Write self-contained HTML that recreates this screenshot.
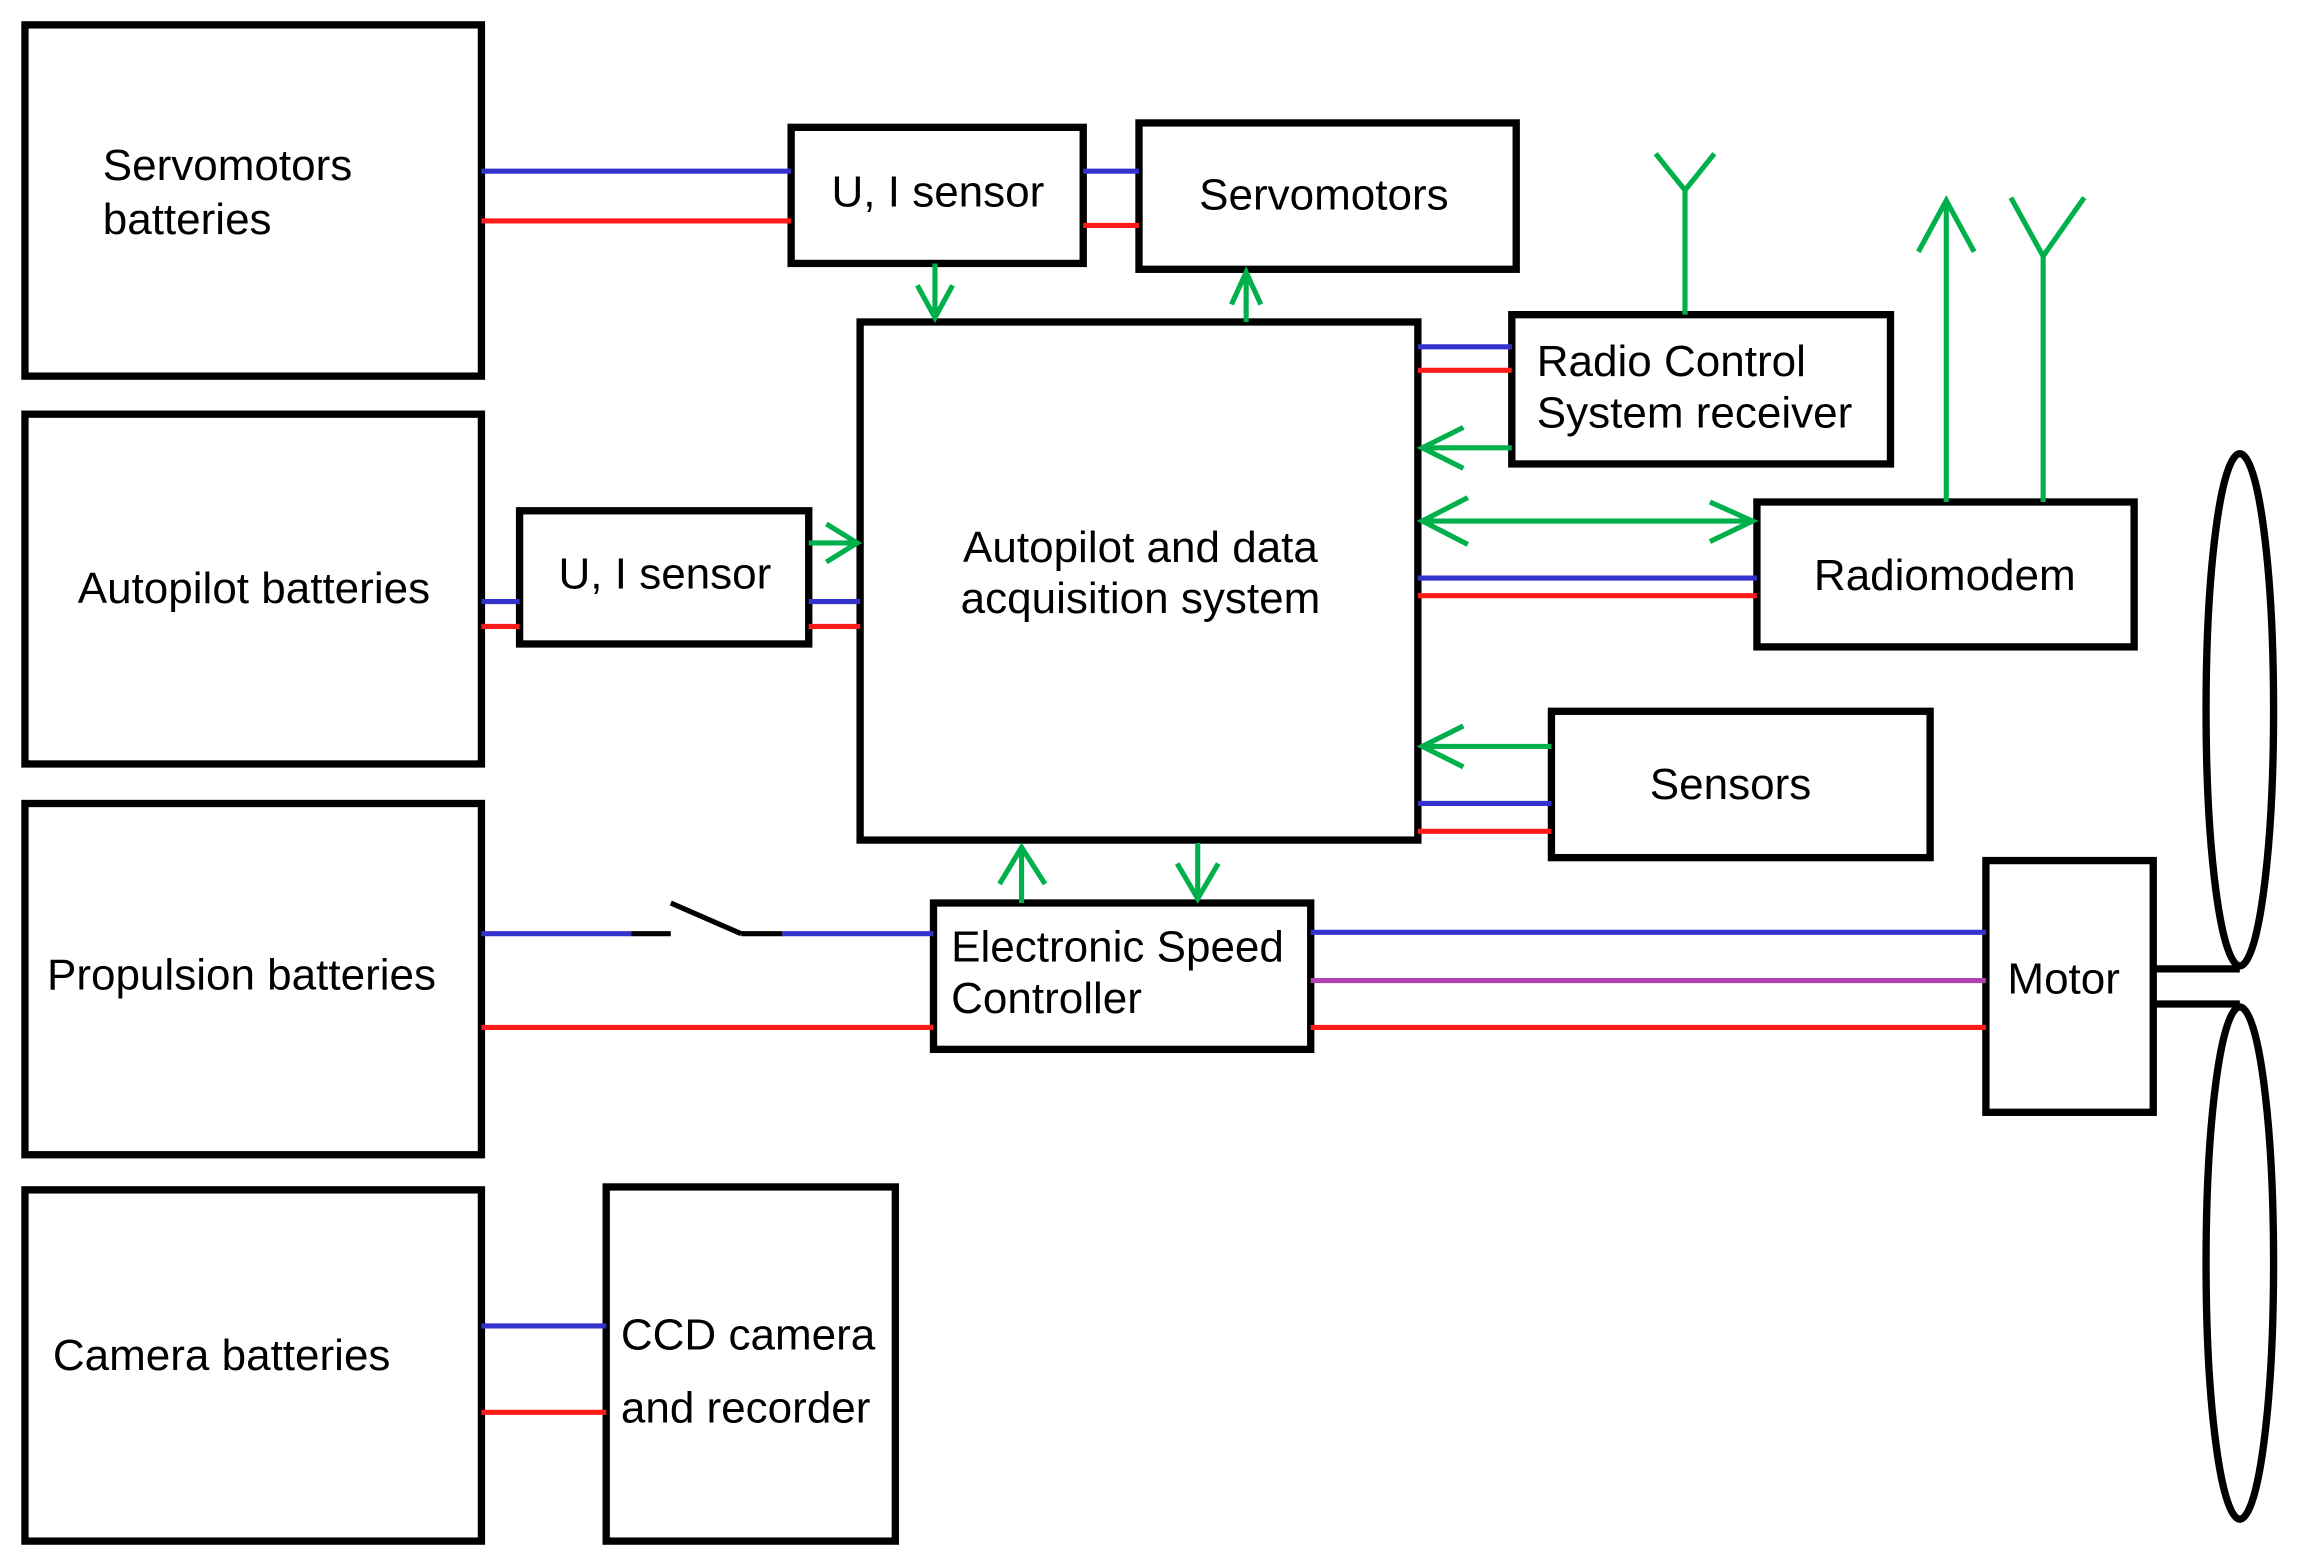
<!DOCTYPE html>
<html><head><meta charset="utf-8"><style>
html,body{margin:0;padding:0;background:#fff;}
svg{display:block;}
text{font-family:"Liberation Sans",Arial,sans-serif;font-size:30px;fill:#000;}
</style></head><body>
<svg width="2300" height="1566" viewBox="0 0 1567 1070" preserveAspectRatio="none" xmlns="http://www.w3.org/2000/svg">
<g fill="none" stroke="#000" stroke-width="5">
<rect x="17" y="17" width="311" height="240"/>
<rect x="17" y="283" width="311" height="239"/>
<rect x="17" y="549" width="311" height="240"/>
<rect x="17" y="813" width="311" height="240"/>
<rect x="539" y="87" width="199" height="93"/>
<rect x="776" y="84" width="257" height="100"/>
<rect x="586" y="220" width="380" height="354"/>
<rect x="1030" y="215" width="258" height="102"/>
<rect x="1197" y="343" width="257" height="99"/>
<rect x="1057" y="486" width="258" height="100"/>
<rect x="354" y="349" width="197" height="91"/>
<rect x="636" y="617" width="257" height="100"/>
<rect x="1353" y="588" width="114" height="172"/>
<rect x="413" y="811" width="197" height="242"/>
<ellipse cx="1526" cy="485" rx="23" ry="175"/>
<ellipse cx="1526" cy="863" rx="23" ry="175"/>
<line x1="1467" y1="662" x2="1526" y2="662"/>
<line x1="1467" y1="686" x2="1526" y2="686"/>
</g>
<g stroke-width="3.5" fill="none">
<g stroke="#3333cc">
<line x1="328" y1="117" x2="539" y2="117"/><line x1="738" y1="117" x2="776" y2="117"/>
<line x1="966" y1="237" x2="1030" y2="237"/><line x1="966" y1="395" x2="1197" y2="395"/>
<line x1="966" y1="549" x2="1057" y2="549"/>
<line x1="328" y1="411" x2="354" y2="411"/><line x1="551" y1="411" x2="586" y2="411"/>
<line x1="328" y1="638" x2="430" y2="638"/><line x1="533" y1="638" x2="636" y2="638"/>
<line x1="893" y1="637" x2="1353" y2="637"/>
<line x1="328" y1="906" x2="413" y2="906"/>
</g>
<g stroke="#ff1a1a">
<line x1="328" y1="151" x2="539" y2="151"/><line x1="738" y1="154" x2="776" y2="154"/>
<line x1="966" y1="253" x2="1030" y2="253"/><line x1="966" y1="407" x2="1197" y2="407"/>
<line x1="966" y1="568" x2="1057" y2="568"/>
<line x1="328" y1="428" x2="354" y2="428"/><line x1="551" y1="428" x2="586" y2="428"/>
<line x1="328" y1="702" x2="636" y2="702"/><line x1="893" y1="702" x2="1353" y2="702"/>
<line x1="328" y1="965" x2="413" y2="965"/>
</g>
<line x1="893" y1="670" x2="1353" y2="670" stroke="#b040b0"/>
<g stroke="#000"><line x1="430" y1="638" x2="457" y2="638"/><line x1="457" y1="617" x2="505" y2="638"/><line x1="505" y1="638" x2="533" y2="638"/></g>
<g stroke="#00b04a" stroke-width="3.5">
<line x1="637" y1="180" x2="637" y2="217"/><polyline points="625,195 637,217 649,195"/>
<line x1="849" y1="220" x2="849" y2="186"/><polyline points="839,208 849,186 859,208"/>
<line x1="1148" y1="215" x2="1148" y2="130"/><polyline points="1128,105 1148,130 1168,105"/>
<line x1="1030" y1="306" x2="969" y2="306"/><polyline points="997,292 969,306 997,320"/>
<line x1="969" y1="356" x2="1194" y2="356"/><polyline points="1000,340 969,356 1000,372"/><polyline points="1165,343 1194,356 1165,370"/>
<line x1="1326" y1="343" x2="1326" y2="137"/><polyline points="1307,172 1326,137 1345,172"/>
<line x1="1392" y1="343" x2="1392" y2="175"/><polyline points="1370,135 1392,175 1420,135"/>
<line x1="1057" y1="510" x2="969" y2="510"/><polyline points="997,496 969,510 997,524"/>
<line x1="551" y1="371" x2="584" y2="371"/><polyline points="563,358 584,371 563,384"/>
<line x1="696" y1="617" x2="696" y2="579"/><polyline points="681,604 696,579 712,604"/>
<line x1="816" y1="576" x2="816" y2="614"/><polyline points="802,590 816,614 830,590"/>
</g>
</g>
<text x="70" y="123">Servomotors</text>
<text x="70" y="160">batteries</text>
<text x="173" y="412" text-anchor="middle">Autopilot batteries</text>
<text x="32" y="676">Propulsion batteries</text>
<text x="36" y="936">Camera batteries</text>
<text x="639" y="141" text-anchor="middle">U, I sensor</text>
<text x="902" y="143" text-anchor="middle">Servomotors</text>
<text x="777" y="384" text-anchor="middle">Autopilot and data</text>
<text x="777" y="419" text-anchor="middle">acquisition system</text>
<text x="1047" y="257">Radio Control</text>
<text x="1047" y="292">System receiver</text>
<text x="1325" y="403" text-anchor="middle">Radiomodem</text>
<text x="1179" y="546" text-anchor="middle">Sensors</text>
<text x="453" y="402" text-anchor="middle">U, I sensor</text>
<text x="648" y="657">Electronic Speed</text>
<text x="648" y="692">Controller</text>
<text x="1406" y="679" text-anchor="middle">Motor</text>
<text x="423" y="922">CCD camera</text>
<text x="423" y="972">and recorder</text>
</svg>
</body></html>
